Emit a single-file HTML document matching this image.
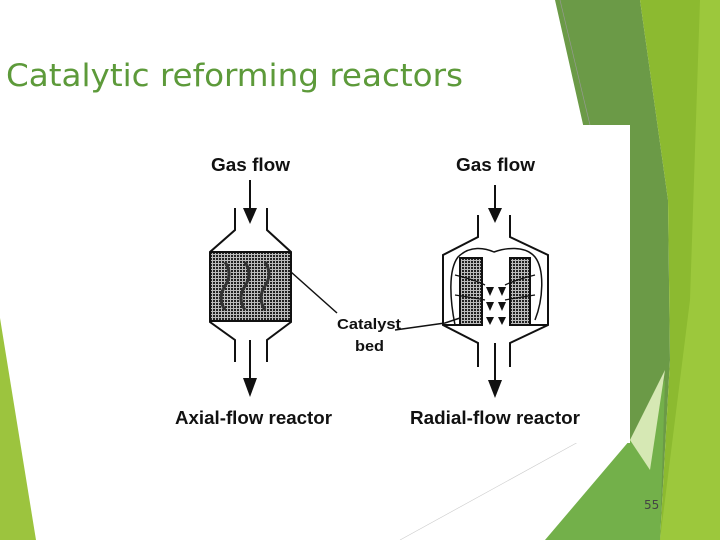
<!DOCTYPE html>
<html><head><style>
html,body{margin:0;padding:0;width:720px;height:540px;overflow:hidden;background:#fff}
</style></head><body>
<svg width="720" height="540" viewBox="0 0 720 540" xmlns="http://www.w3.org/2000/svg" style="position:absolute;left:0;top:0">
<defs>
<pattern id="h" width="3" height="3" patternUnits="userSpaceOnUse">
<rect width="3" height="3" fill="#bbb"/><rect width="2" height="2" fill="#222"/>
</pattern>
</defs>
<polygon points="555,0 640,0 668,200 670,360 660,540 640,540 600,200" fill="#6b9a47"/>
<polygon points="640,0 720,0 720,540 660,540 670,360 668,200" fill="#8cba30"/>
<polygon points="700,0 720,0 720,540 660,540 690,300" fill="#9cc83c"/>
<polygon points="545,540 630,440 665,380 660,540" fill="#73b04a"/>
<polygon points="630,440 665,370 650,470" fill="#d6e8b4"/>
<polygon points="0,318 36,540 0,540" fill="#9cc43e"/>
<line x1="560" y1="0" x2="590" y2="125" stroke="#999" stroke-width="0.6"/>
<line x1="400" y1="540" x2="600" y2="430" stroke="#ccc" stroke-width="0.6"/>
<rect x="170" y="125" width="460" height="318" fill="#fff"/>
<text x="6" y="86" font-family="DejaVu Sans Condensed, DejaVu Sans, sans-serif" font-size="31" fill="#5d9a3a" textLength="457" lengthAdjust="spacingAndGlyphs">Catalytic reforming reactors</text>
<g font-family="Liberation Sans, sans-serif" font-size="18" font-weight="bold" fill="#111">
<text x="211" y="171" textLength="79" lengthAdjust="spacingAndGlyphs">Gas flow</text>
<text x="456" y="171" textLength="79" lengthAdjust="spacingAndGlyphs">Gas flow</text>
<text x="175" y="424" textLength="157" lengthAdjust="spacingAndGlyphs">Axial-flow reactor</text>
<text x="410" y="424" textLength="170" lengthAdjust="spacingAndGlyphs">Radial-flow reactor</text>
<text x="337" y="329" font-size="15" textLength="64" lengthAdjust="spacingAndGlyphs">Catalyst</text>
<text x="355" y="351" font-size="15" textLength="29" lengthAdjust="spacingAndGlyphs">bed</text>
</g>
<g stroke="#111" stroke-width="2" fill="none">
<rect x="210" y="252" width="81" height="69" fill="url(#h)" stroke="none"/>
<polyline points="235,208 235,230 210,252 210,322 235,340 235,362"/>
<polyline points="267,208 267,230 291,252 291,322 267,340 267,362"/>
<line x1="210" y1="252" x2="291" y2="252"/>
<line x1="210" y1="321" x2="291" y2="321"/>
<path d="M225,262 q8,12 0,24 q-8,12 0,24 M245,262 q8,12 0,24 q-8,12 0,24 M265,262 q8,12 0,24 q-8,12 0,24" stroke="#333" stroke-width="3"/>
<line x1="250" y1="180" x2="250" y2="210"/>
<line x1="250" y1="340" x2="250" y2="380"/>
<line x1="291" y1="272" x2="337" y2="313" stroke-width="1.5"/>
<rect x="460" y="258" width="22" height="67" fill="url(#h)"/>
<rect x="510" y="258" width="20" height="67" fill="url(#h)"/>
<polyline points="478,215 478,237 443,255 443,325 478,343 478,367"/>
<polyline points="510,215 510,237 548,255 548,325 510,343 510,367"/>
<line x1="443" y1="325" x2="460" y2="325"/>
<line x1="530" y1="325" x2="548" y2="325"/>
<path d="M455,325 C450,300 448,270 458,257 C470,245 485,248 494,252 C505,248 525,245 535,257 C545,270 543,300 535,320" stroke-width="1.5"/>
<path d="M455,275 q20,5 30,10 M535,275 q-20,5 -30,10 M455,295 q20,3 30,5 M535,295 q-20,3 -30,5" stroke-width="1.3"/>
<line x1="495" y1="185" x2="495" y2="212"/>
<line x1="495" y1="343" x2="495" y2="382"/>
<polyline points="395,330 445,323 460,318" stroke-width="1.5"/>
</g>
<g fill="#111">
<polygon points="243,208 257,208 250,224"/>
<polygon points="243,378 257,378 250,397"/>
<polygon points="488,208 502,208 495,223"/>
<polygon points="488,380 502,380 495,398"/>
<polygon points="486,287 494,287 490,296"/><polygon points="498,287 506,287 502,296"/>
<polygon points="486,302 494,302 490,311"/><polygon points="498,302 506,302 502,311"/>
<polygon points="486,317 494,317 490,325"/><polygon points="498,317 506,317 502,325"/>
</g>
<text x="644" y="509" font-family="DejaVu Sans, sans-serif" font-size="12" fill="#444">55</text>
</svg>
</body></html>
